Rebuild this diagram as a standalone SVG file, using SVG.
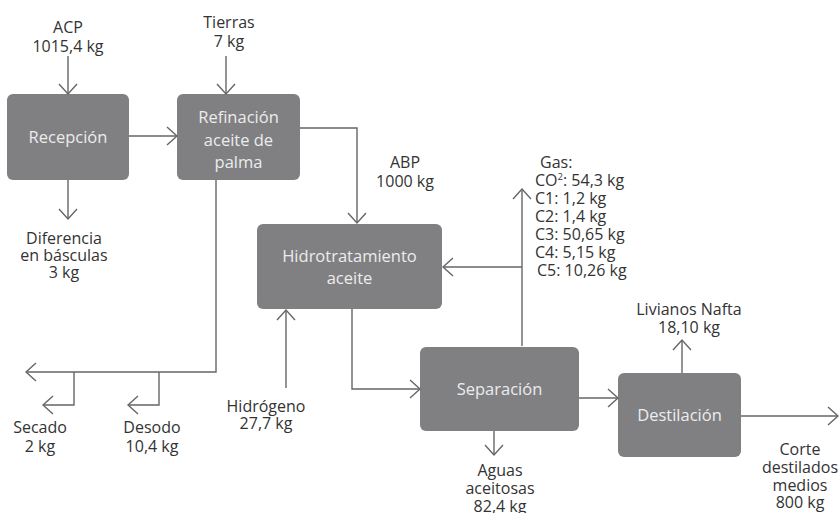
<svg xmlns="http://www.w3.org/2000/svg" width="840" height="513" viewBox="0 0 840 513">
<defs>
<marker id="ah" markerUnits="userSpaceOnUse" viewBox="-12 -11 14 22" refX="0" refY="0" markerWidth="14" markerHeight="22" orient="auto" overflow="visible">
<path d="M-10,-9 L0,0 L-10,9" fill="none" stroke="#666" stroke-width="1.4"/>
</marker>
</defs>
<style>
.box{fill:#808083;}
.nt{font-family:"Open Sans","Noto Sans",sans-serif;font-size:16.5px;fill:#ececec;text-anchor:middle;}
.lb{font-family:"Open Sans","Noto Sans",sans-serif;font-size:16px;fill:#333;text-anchor:middle;}
.lbl{font-family:"Open Sans","Noto Sans",sans-serif;font-size:16px;fill:#333;}
.ln{fill:none;stroke:#666;stroke-width:1.4;}
.ar{marker-end:url(#ah);}
</style>
<rect width="840" height="513" fill="#fff"/>
<g id="recepcion"><rect class="box" x="7" y="94" width="122" height="86" rx="6"/><text class="nt" x="68" y="143">Recepción</text></g>
<g id="refinacion"><rect class="box" x="177" y="94" width="123" height="86" rx="6"/><text class="nt" x="238.5" y="123">Refinación</text><text class="nt" x="238.5" y="146">aceite de</text><text class="nt" x="238.5" y="168">palma</text></g>
<g id="hidrotratamiento"><rect class="box" x="257" y="224" width="185" height="85" rx="6"/><text class="nt" x="349.5" y="262">Hidrotratamiento</text><text class="nt" x="349.5" y="284">aceite</text></g>
<g id="separacion"><rect class="box" x="420" y="347" width="159" height="84" rx="6"/><text class="nt" x="499.5" y="395">Separación</text></g>
<g id="destilacion"><rect class="box" x="618" y="373" width="123" height="84" rx="6"/><text class="nt" x="679.5" y="421">Destilación</text></g>
<g id="labels">
<text class="lb" x="68" y="33">ACP</text><text class="lb" x="68" y="52">1015,4 kg</text>
<text class="lb" x="229" y="28">Tierras</text><text class="lb" x="229" y="47">7 kg</text>
<text class="lb" x="64" y="244">Diferencia</text><text class="lb" x="64" y="261">en básculas</text><text class="lb" x="64" y="278">3 kg</text>
<text class="lb" x="405" y="168">ABP</text><text class="lb" x="405" y="187">1000 kg</text>
<text class="lbl" x="540" y="168">Gas:</text>
<text class="lbl" x="535" y="186">CO<tspan font-size="9.5" dy="-6">2</tspan><tspan dy="6">: 54,3 kg</tspan></text>
<text class="lbl" x="535" y="204">C1: 1,2 kg</text>
<text class="lbl" x="535" y="222">C2: 1,4 kg</text>
<text class="lbl" x="535" y="240">C3: 50,65 kg</text>
<text class="lbl" x="535" y="258">C4: 5,15 kg</text>
<text class="lbl" x="537" y="276">C5: 10,26 kg</text>
<text class="lb" x="40" y="433">Secado</text><text class="lb" x="40" y="452">2 kg</text>
<text class="lb" x="152" y="433">Desodo</text><text class="lb" x="152" y="452">10,4 kg</text>
<text class="lb" x="266" y="412">Hidrógeno</text><text class="lb" x="266" y="429">27,7 kg</text>
<text class="lb" x="500" y="476">Aguas</text><text class="lb" x="500" y="494">aceitosas</text><text class="lb" x="500" y="512">82,4 kg</text>
<text class="lb" x="689" y="315">Livianos Nafta</text><text class="lb" x="689" y="333">18,10 kg</text>
<text class="lb" x="800" y="455">Corte</text><text class="lb" x="800" y="473">destilados</text><text class="lb" x="800" y="491">medios</text><text class="lb" x="800" y="508">800 kg</text>
</g>
<g id="connectors">
<path class="ln ar" d="M68,56 V94"/>
<path class="ln ar" d="M226,56 V94"/>
<path class="ln ar" d="M129,136 H177"/>
<path class="ln ar" d="M68,180 V219"/>
<path class="ln ar" d="M300,128 H357 V223"/>
<path class="ln ar" d="M522,346 V189"/>
<path class="ln ar" d="M522,267 H443"/>
<path class="ln ar" d="M216,180 V372 H26"/>
<path class="ln ar" d="M74,372 V405 H43"/>
<path class="ln ar" d="M159,372 V405 H128"/>
<path class="ln ar" d="M286,388 V310"/>
<path class="ln ar" d="M352,309 V389 H420"/>
<path class="ln ar" d="M494,431 V455"/>
<path class="ln ar" d="M579,398 H618"/>
<path class="ln ar" d="M682,373 V340"/>
<path class="ln ar" d="M741,416 H838"/>
</g>
</svg>
